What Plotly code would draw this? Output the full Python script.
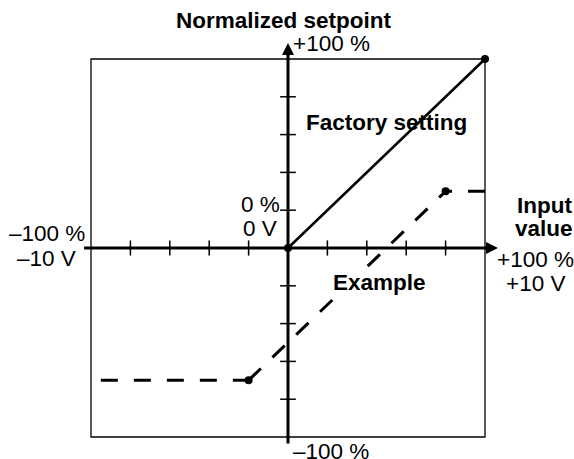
import plotly.graph_objects as go

# Normalised transfer characteristic: input value (%) -> setpoint (%)
factory_in = [0, 100]
factory_out = [0, 100]

example_in = [-95, -20, 80, 100]
example_out = [-70, -70, 30, 30]

tick_values = [-80, -60, -40, -20, 20, 40, 60, 80]

W, H = 574, 459
X0_PX, Y0_PX = 288, 248          # origin in pixels
SX, SY = 1.97, 1.89              # pixels per percent
x_range = [-X0_PX / SX, (W - X0_PX) / SX]
y_range = [-(H - Y0_PX) / SY, Y0_PX / SY]

FONT = "Liberation Sans, Arial, sans-serif"
INK = "black"

fig = go.Figure()

# tick marks along both axes
tx, ty = [], []
for v in tick_values:
    tx += [v, v, None]
    ty += [-4, 4, None]
for v in tick_values:
    tx += [-4, 4, None]
    ty += [v, v, None]
fig.add_trace(go.Scatter(x=tx, y=ty, mode="lines",
                         line=dict(color=INK, width=1.5), hoverinfo="skip"))

# axes
fig.add_trace(go.Scatter(x=[-103.5, 103], y=[0, 0], mode="lines",
                         line=dict(color=INK, width=3), hoverinfo="skip"))
fig.add_trace(go.Scatter(x=[0, 0], y=[-103.5, 104], mode="lines",
                         line=dict(color=INK, width=3), hoverinfo="skip"))

# factory characteristic
fig.add_trace(go.Scatter(x=factory_in, y=factory_out, mode="lines+markers",
                         line=dict(color=INK, width=2.5),
                         marker=dict(size=8, color=INK), hoverinfo="skip"))

# example characteristic, each segment dashed from its own start
dash = "17px,16px"
segments = [(0, 1), (1, 2), (3, 2)]
for a, b in segments:
    fig.add_trace(go.Scatter(x=[example_in[a], example_in[b]],
                             y=[example_out[a], example_out[b]],
                             mode="lines", line=dict(color=INK, width=3, dash=dash),
                             hoverinfo="skip"))
fig.add_trace(go.Scatter(x=example_in[1:3], y=example_out[1:3], mode="markers",
                         marker=dict(size=8, color=INK), hoverinfo="skip"))

# frame
fig.add_shape(type="rect", x0=-100, x1=100, y0=-100, y1=100,
              line=dict(color=INK, width=1.3), layer="below")

# arrow heads
fig.add_annotation(x=0, y=108.5, ax=0, ay=14, axref="pixel", ayref="pixel",
                   showarrow=True, arrowhead=2, arrowsize=0.8, arrowwidth=3,
                   arrowcolor=INK, text="")
fig.add_annotation(x=106.6, y=0, ax=-14, ay=0, axref="pixel", ayref="pixel",
                   showarrow=True, arrowhead=2, arrowsize=0.8, arrowwidth=3,
                   arrowcolor=INK, text="")


def label(text, px, py, anchor="center", bold=False, size=22.5, bg=None):
    fig.add_annotation(x=px / W, y=1 - py / H, xref="paper", yref="paper",
                       text=f"<b>{text}</b>" if bold else text,
                       showarrow=False, xanchor=anchor, yanchor="middle",
                       bgcolor=bg, borderpad=0,
                       font=dict(family=FONT, size=size, color=INK))


label("Normalized setpoint", 284, 20, bold=True)
label("+100 %", 292, 43, anchor="left")
label("Factory setting", 305, 122, anchor="left", bold=True)
label("0 %", 260, 204)
label("0 V", 260, 229)
label("\u2013100 %", 47, 233)
label("\u201310 V", 47, 258)
label("Input", 544, 205, bold=True)
label("value", 544, 229, bold=True)
label("+100 %", 535, 259)
label("+10 V", 535, 283)
label("Example", 379, 282, bold=True, bg="white")
label("\u2013100 %", 292, 451, anchor="left")

fig.update_layout(
    width=W, height=H, margin=dict(l=0, r=0, t=0, b=0),
    paper_bgcolor="white", plot_bgcolor="white", showlegend=False,
    xaxis=dict(range=x_range, visible=False, fixedrange=True),
    yaxis=dict(range=y_range, visible=False, fixedrange=True),
)

fig.write_html("out.html")
